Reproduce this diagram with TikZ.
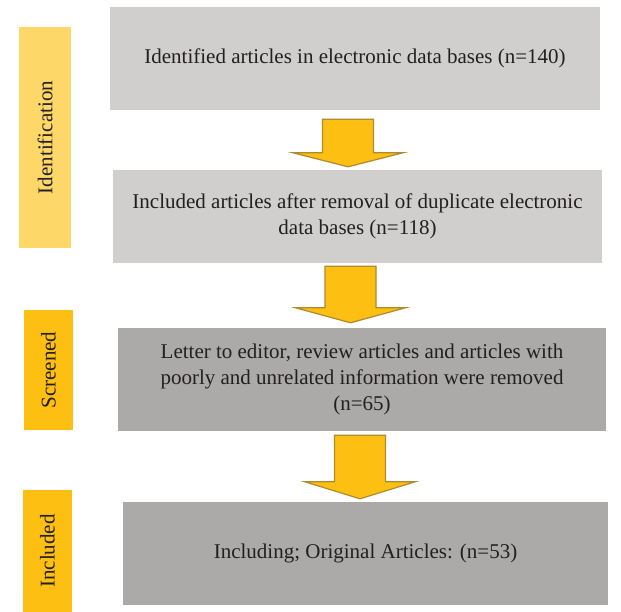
\documentclass[tikz,border=0pt]{standalone}
\usepackage{fontspec}
\setmainfont{Liberation Serif}
\usepackage{xcolor}
\usetikzlibrary{calc}

\definecolor{boxlight}{HTML}{D0CFCE}
\definecolor{boxdark}{HTML}{ABAAA9}
\definecolor{identyellow}{HTML}{FDD767}
\definecolor{gold}{HTML}{FCBF12}
\definecolor{goldedge}{HTML}{B08A2E}
\definecolor{textdark}{HTML}{231F20}

% block arrow from shaft top (#1) down to tip (#2), head length #3
\newcommand{\blockarrow}[3]{%
  \draw[arrowbody] let \p1=(#1), \p2=(#2) in
    (\x1-25.5,\y1) -- (\x1+25.5,\y1) -- (\x1+25.5,\y2+#3) -- (\x1+55,\y2+#3)
    -- (\x1,\y2) -- (\x1-55,\y2+#3) -- (\x1-25.5,\y2+#3) -- cycle;}

\begin{document}
\begin{tikzpicture}[x=1pt, y=-1pt,
    mainbox/.style={inner sep=0pt, align=center, text=textdark, font=\fontsize{21}{26}\selectfont},
    stagebox/.style={inner sep=0pt, rotate=90, text=textdark, font=\fontsize{21}{26}\selectfont},
    arrowbody/.style={fill=gold, draw=goldedge, line width=1.2pt, line join=miter}]
    \useasboundingbox (0,0) rectangle (621,612);

    % ============================================================
    % Stage labels - left column
    % ============================================================
    \node[stagebox, fill=identyellow, minimum width=221, minimum height=52] (identlabel) at (45,137.5) {Identification};
    \node[stagebox, fill=gold, minimum width=120, minimum height=49] (screenlabel) at (48.5,370) {Screened};
    \node[stagebox, fill=gold, minimum width=122, minimum height=49] (incllabel) at (47.5,551) {Included};

    % ============================================================
    % Flow boxes
    % ============================================================
    \node[mainbox, fill=boxlight, minimum width=490, minimum height=103] (idbox) at (355,58.5)
        {Identified articles in electronic data bases (n=140)};
    \node[mainbox, fill=boxlight, minimum width=489, minimum height=93] (dupbox) at (357.5,216.5)
        {Included articles after removal of duplicate electronic\\ data bases (n=118)};
    \node[mainbox, fill=boxdark, minimum width=488, minimum height=103] (screenbox) at (362,379.5)
        {Letter to editor, review articles and articles with\\ poorly and unrelated information were removed\\ (n=65)};
    \node[mainbox, fill=boxdark, minimum width=485, minimum height=103] (inclbox) at (365.5,553.5)
        {Including; Original Articles: (n=53)};

    % ============================================================
    % Arrows between boxes
    % ============================================================
    \coordinate (a1top) at ($(idbox.south)+(-7,9)$);
    \coordinate (a1tip) at ($(dupbox.north)+(-9.5,-3)$);
    \blockarrow{a1top}{a1tip}{14}

    \coordinate (a2top) at ($(dupbox.south)+(-7,3)$);
    \coordinate (a2tip) at ($(screenbox.north)+(-11.5,-5)$);
    \blockarrow{a2top}{a2tip}{15}

    \coordinate (a3top) at ($(screenbox.south)+(-2,4)$);
    \coordinate (a3tip) at ($(inclbox.north)+(-5.5,-3)$);
    \blockarrow{a3top}{a3tip}{17}

\end{tikzpicture}
\end{document}
